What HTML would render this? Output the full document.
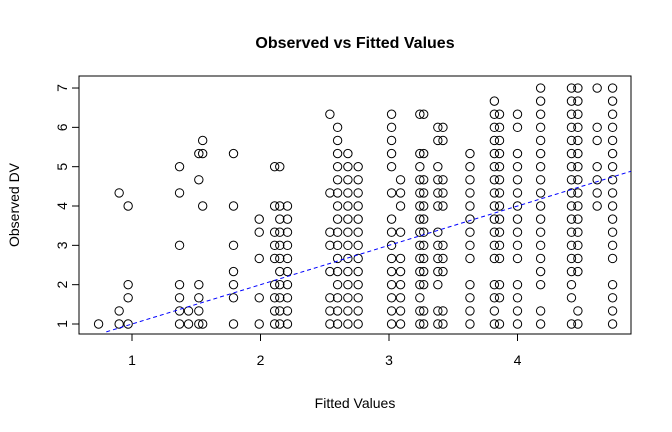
<!DOCTYPE html>
<html><head><meta charset="utf-8"><style>
body{margin:0;background:#fff}
svg{display:block;font-family:"Liberation Sans",Arial,sans-serif}
</style></head><body>
<svg id="chart" width="672" height="432" viewBox="0 0 672 432" xmlns="http://www.w3.org/2000/svg">
<text x="355" y="48" text-anchor="middle" font-size="16" font-weight="bold">Observed vs Fitted Values</text>
<text x="355" y="408" text-anchor="middle" font-size="14">Fitted Values</text>
<text transform="translate(19,205) rotate(-90)" text-anchor="middle" font-size="14">Observed DV</text>
<rect x="79" y="76" width="552" height="258" fill="none" stroke="#000" stroke-width="1"/>
<g id="marks"></g>
</svg>
<script>
// Fitted value of each column of points
const fitted = [0.74,0.90,0.97,1.37,1.44,1.52,1.55,1.79,1.99,2.11,2.15,2.21,2.54,2.60,2.68,2.76,3.02,3.09,3.24,3.27,3.38,3.42,3.63,3.82,3.86,4.00,4.18,4.42,4.47,4.62,4.74];
// Observed levels per column (observed = 1 + level/3)
const levels = [
 [0],[0,1,10],[0,2,3,9],[0,1,2,3,6,10,12],[0,1],[0,1,2,3,11,13],[0,9,13,14],[0,2,3,4,6,9,13],[0,2,5,7,8],
 [0,1,2,3,5,6,7,9,12],[0,1,2,3,4,5,6,7,8,9,12],[0,1,2,3,4,5,6,7,8,9],
 [0,1,2,4,6,7,10,16],[0,1,2,3,4,5,6,7,8,9,10,11,12,13,14,15],[0,1,2,3,4,5,6,7,8,9,10,11,12,13],[0,1,2,3,4,5,6,7,8,9,10,11,12],
 [0,1,2,3,4,5,6,7,8,10,12,13,14,15,16],[0,1,2,3,4,5,7,9,10,11],
 [0,1,2,3,4,5,6,7,8,9,10,11,12,13,16],[0,1,3,4,5,6,7,8,9,10,11,13,16],[0,1,3,4,5,6,7,9,10,11,12,14,15],[0,1,4,5,6,9,10,11,14,15],
 [0,1,2,3,5,6,7,8,9,10,11,12,13],[0,1,2,3,5,6,7,8,9,10,11,12,13,14,15,16,17],[0,2,3,5,6,7,8,9,10,11,12,13,14,15,16],
 [0,1,2,3,5,6,7,8,9,10,11,12,13,15,16],[0,1,3,4,5,6,7,8,9,10,11,12,13,14,15,16,17,18],
 [0,2,3,4,5,6,7,8,9,10,11,12,13,14,15,16,17,18],[0,1,4,5,6,7,8,9,10,11,12,13,14,15,16,17,18],
 [9,10,11,12,14,15,18],[0,1,2,3,5,6,7,8,9,10,11,12,13,14,15,16,17,18]
];
const xTicks = [1,2,3,4];
const yTicks = [1,2,3,4,5,6,7];
const fitLine = {intercept:0, slope:1};

const NS="http://www.w3.org/2000/svg";
const X0=79,X1=631,Y0=76,Y1=334;
function sx(v){return 132+(v-1)*128.5;}
function sy(v){return 324-(v-1)*39.33;}
const g=document.getElementById('marks');
function mk(t,a){const e=document.createElementNS(NS,t);for(const k in a)e.setAttribute(k,a[k]);g.appendChild(e);return e;}

xTicks.forEach(v=>{
  const l=mk('line',{x1:sx(v),x2:sx(v),y1:Y1,y2:Y1+7,stroke:'#000'});
  
  
  const t=mk('text',{x:sx(v),y:Y1+31,'text-anchor':'middle','font-size':14});
  t.textContent=v;
  
  
});
mk('line',{x1:sx(1),x2:sx(4),y1:Y1,y2:Y1,stroke:'#000'});
yTicks.forEach(v=>{
  const l=mk('line',{x1:X0,x2:X0-7,y1:sy(v),y2:sy(v),stroke:'#000'});
  
  
  const t=mk('text',{transform:`translate(${X0-12},${sy(v)}) rotate(-90)`,'text-anchor':'middle','font-size':14});
  t.textContent=v;
  
  
});
fitted.forEach((f,i)=>{
  levels[i].forEach(lv=>{
    const obs=1+lv/3;
    const c=mk('circle',{cx:sx(f),cy:sy(obs),r:4.2,fill:'none',stroke:'#000','stroke-width':1});
    
    
  });
});
// regression line clipped to box
const xa=0.8, xb=(sy.length, 1+(X1-132)/128.5);
const ln=mk('line',{x1:sx(xa),y1:sy(fitLine.intercept+fitLine.slope*xa),x2:sx(xb),y2:sy(fitLine.intercept+fitLine.slope*xb),stroke:'#0000ff','stroke-dasharray':'4,3','stroke-width':1});


</script>
</body></html>
